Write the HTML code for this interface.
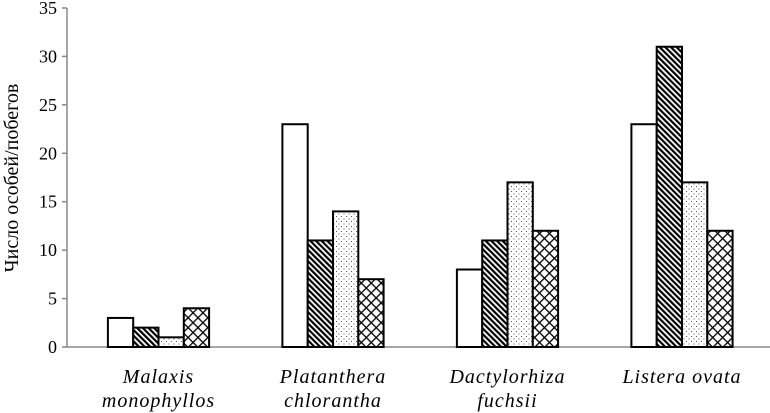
<!DOCTYPE html>
<html><head><meta charset="utf-8"><style>
html,body{margin:0;padding:0;background:#fff;}
svg{display:block;font-family:"Liberation Serif",serif;}
</style></head><body>
<svg id="chart" width="770" height="413">
<defs>
<pattern id="pDiag" width="4" height="4" patternUnits="userSpaceOnUse" patternTransform="rotate(-45)">
<rect width="4" height="4" fill="#fff"/><rect width="2.2" height="4" fill="#000"/></pattern>
<pattern id="pDots" width="5" height="5" patternUnits="userSpaceOnUse">
<rect width="5" height="5" fill="#fff"/><rect x="1" y="1" width="1" height="1" fill="#555"/><rect x="3.5" y="3.5" width="1" height="1" fill="#555"/></pattern>
<pattern id="pCross" width="7" height="7" patternUnits="userSpaceOnUse" patternTransform="rotate(45)">
<rect width="7" height="7" fill="#fff"/><rect width="1.3" height="7" fill="#000"/><rect width="7" height="1.3" fill="#000"/></pattern>
</defs>
<g id="axes"></g>
<g id="bars"></g>
<text transform="translate(18,178) rotate(-90)" text-anchor="middle" font-size="20">Число особей/побегов</text>
</svg>
<script>
const categories1 = ["Malaxis","Platanthera","Dactylorhiza","Listera ovata"];
const categories2 = ["monophyllos","chlorantha","fuchsii",""];
const seriesA = [3,23,8,23];
const seriesB = [2,11,11,31];
const seriesC = [1,14,17,17];
const seriesD = [4,7,12,12];
const yTicks = [0,5,10,15,20,25,30,35];
const NS="http://www.w3.org/2000/svg";
const y0=347, pxPer=339/35, x0=67;
const y=v=>y0-v*pxPer;
const cx=i=>158.5+i*174.5;
const bw=25.3;
const svg=document.getElementById('chart');
const ax=document.getElementById('axes'), bg=document.getElementById('bars');
function mk(t,a,p){const e=document.createElementNS(NS,t);for(const k in a)e.setAttribute(k,a[k]);(p||svg).appendChild(e);return e;}
let l=mk('line',{x1:x0,y1:y(35),x2:x0,y2:y0,stroke:'#888','stroke-width':1.5},ax);


yTicks.forEach(v=>{
 const t=mk('line',{x1:x0-5,x2:x0,y1:y(v),y2:y(v),stroke:'#888','stroke-width':1.5},ax);
 
 
 const tx=mk('text',{x:x0-10,y:y(v)+6,'text-anchor':'end','font-size':18},ax);
 tx.textContent=v;
 
 
});
const series=[[seriesA,'#fff'],[seriesB,'url(#pDiag)'],[seriesC,'url(#pDots)'],[seriesD,'url(#pCross)']];
categories1.forEach((c,i)=>{
 series.forEach((s,j)=>{
  const v=s[0][i];
  const r=mk('rect',{x:cx(i)-2*bw+j*bw,y:y(v),width:bw,height:y0-y(v),fill:s[1],stroke:'#000','stroke-width':2},bg);
  
  
 });
 const t1=mk('text',{x:cx(i),y:383,'text-anchor':'middle','font-size':20,'font-style':'italic','letter-spacing':1});
 t1.textContent=c;
 
 
 if(categories2[i]){
  const t2=mk('text',{x:cx(i),y:407,'text-anchor':'middle','font-size':20,'font-style':'italic','letter-spacing':1});
  t2.textContent=categories2[i];
  
  
 }
});
const xa=mk('line',{x1:x0,y1:y0,x2:770,y2:y0,stroke:'#888','stroke-width':1.5},ax);


</script>
</body></html>
